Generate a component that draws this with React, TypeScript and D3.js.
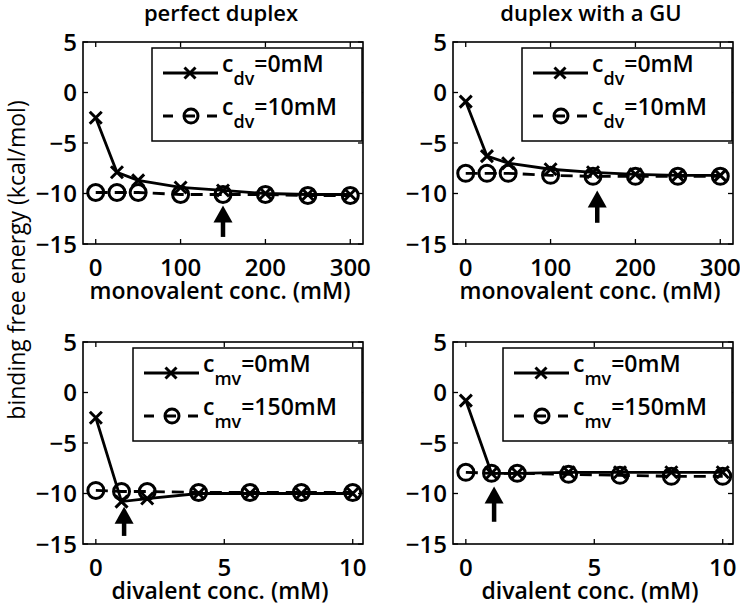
import React, { useEffect, useRef } from "react";
import * as d3 from "d3";

// concentrations on the x axes
const monoConc = [0, 25, 50, 100, 150, 200, 250, 300];
const divConc = [0, 1, 2, 4, 6, 8, 10];

// binding free energy (kcal/mol)
const perfectMonoNoDiv = [-2.5, -7.9, -8.7, -9.4, -9.7, -10.0, -10.1, -10.1];
const perfectMonoDiv10 = [-9.9, -9.9, -9.9, -10.1, -10.1, -10.1, -10.2, -10.2];
const guMonoNoDiv = [-0.9, -6.3, -7.0, -7.6, -7.9, -8.1, -8.2, -8.2];
const guMonoDiv10 = [-8.0, -8.0, -8.0, -8.2, -8.3, -8.3, -8.3, -8.3];
const perfectDivNoMono = [-2.5, -10.8, -10.5, -10.0, -10.0, -10.0, -10.0];
const perfectDivMono150 = [-9.7, -9.8, -9.8, -9.9, -9.9, -9.9, -9.9];
const guDivNoMono = [-0.8, -8.0, -8.0, -7.9, -7.9, -7.9, -7.9];
const guDivMono150 = [-7.9, -8.0, -8.0, -8.1, -8.2, -8.3, -8.3];

// tick labels
const yTicks = [5, 0, -5, -10, -15];
const monoTicks = [0, 100, 200, 300];
const divTicks = [0, 5, 10];

// arrows: [x, tip y, tail y] in data units
const arrowsMono = [[150, -11.2, -14.3], [155, -9.7, -12.9]];
const arrowsDiv = [[1.1, -11.3, -14.2], [1.1, -9.3, -12.8]];

const FONT = "'Open Sans', sans-serif";
const WEIGHT = 600;
const PW = 280;
const PH = 202;

const panels = [
  { left: 83, top: 42, title: "perfect duplex", xs: monoConc, xDomain: [-15, 315], xTicks: monoTicks,
    xLabel: "monovalent conc. (mM)", solid: perfectMonoNoDiv, dashed: perfectMonoDiv10,
    sub: "dv", legend: ["=0mM", "=10mM"], arrow: arrowsMono[0], legW: 210, labelGap: 32, xLabGap: 55 },
  { left: 453, top: 42, title: "duplex with a GU", xs: monoConc, xDomain: [-15, 315], xTicks: monoTicks,
    xLabel: "monovalent conc. (mM)", solid: guMonoNoDiv, dashed: guMonoDiv10,
    sub: "dv", legend: ["=0mM", "=10mM"], arrow: arrowsMono[1], legW: 210, labelGap: 32, xLabGap: 55 },
  { left: 83, top: 342, title: "", xs: divConc, xDomain: [-0.5, 10.4], xTicks: divTicks,
    xLabel: "divalent conc. (mM)", solid: perfectDivNoMono, dashed: perfectDivMono150,
    sub: "mv", legend: ["=0mM", "=150mM"], arrow: arrowsDiv[0], legW: 229, labelGap: 32, xLabGap: 55 },
  { left: 453, top: 342, title: "", xs: divConc, xDomain: [-0.5, 10.4], xTicks: divTicks,
    xLabel: "divalent conc. (mM)", solid: guDivNoMono, dashed: guDivMono150,
    sub: "mv", legend: ["=0mM", "=150mM"], arrow: arrowsDiv[1], legW: 229, labelGap: 32, xLabGap: 55 },
];

function drawX(g: any, cx: number, cy: number, s: number) {
  g.append("path")
    .attr("d", `M${cx - s},${cy - s}L${cx + s},${cy + s}M${cx - s},${cy + s}L${cx + s},${cy - s}`)
    .attr("stroke", "#000").attr("stroke-width", 3).attr("fill", "none");
}

function drawO(g: any, cx: number, cy: number, r: number) {
  g.append("circle").attr("cx", cx).attr("cy", cy).attr("r", r)
    .attr("stroke", "#000").attr("stroke-width", 3).attr("fill", "none");
}

function txt(g: any, size: number) {
  return g.append("text").attr("font-family", FONT).attr("font-weight", WEIGHT).attr("font-size", size);
}

function drawPanel(svg: any, p: any) {
  const x = d3.scaleLinear().domain(p.xDomain).range([p.left, p.left + PW]);
  const y = d3.scaleLinear().domain([-15, 5]).range([p.top + PH, p.top]);
  const g = svg.append("g");
  const bottom = p.top + PH;
  const right = p.left + PW;

  g.append("rect").attr("x", p.left).attr("y", p.top).attr("width", PW).attr("height", PH)
    .attr("fill", "#fff").attr("stroke", "#000").attr("stroke-width", 1.6);

  yTicks.forEach((t) => {
    g.append("line").attr("x1", p.left).attr("x2", p.left + 5).attr("y1", y(t)).attr("y2", y(t))
      .attr("stroke", "#000").attr("stroke-width", 1.3);
    g.append("line").attr("x1", right - 5).attr("x2", right).attr("y1", y(t)).attr("y2", y(t))
      .attr("stroke", "#000").attr("stroke-width", 1.3);
    txt(g, 24).attr("x", p.left - 6).attr("y", y(t)).attr("dy", "0.36em")
      .attr("text-anchor", "end")
      .text(t < 0 ? "\u2212" + Math.abs(t) : String(t));
  });

  p.xTicks.forEach((t: number) => {
    g.append("line").attr("x1", x(t)).attr("x2", x(t)).attr("y1", bottom).attr("y2", bottom - 5)
      .attr("stroke", "#000").attr("stroke-width", 1.3);
    g.append("line").attr("x1", x(t)).attr("x2", x(t)).attr("y1", p.top).attr("y2", p.top + 5)
      .attr("stroke", "#000").attr("stroke-width", 1.3);
    txt(g, 24).attr("x", x(t)).attr("y", bottom + p.labelGap)
      .attr("text-anchor", "middle")
      .text(String(t));
  });

  txt(g, 23).attr("x", p.left + PW / 2 - 3).attr("y", bottom + p.xLabGap)
    .attr("text-anchor", "middle")
    .text(p.xLabel);

  if (p.title) {
    txt(g, 22).attr("x", p.left + PW / 2 - 2).attr("y", p.top - 21)
      .attr("text-anchor", "middle")
      .text(p.title);
  }

  const line = d3.line<number>().x((d, i) => x(p.xs[i])).y((d) => y(d));

  g.append("path").attr("d", line(p.dashed)).attr("fill", "none").attr("stroke", "#000")
    .attr("stroke-width", 2.8).attr("stroke-dasharray", "12,7");
  p.dashed.forEach((v: number, i: number) => drawO(g, x(p.xs[i]), y(v), 8));

  g.append("path").attr("d", line(p.solid)).attr("fill", "none").attr("stroke", "#000")
    .attr("stroke-width", 2.8);
  p.solid.forEach((v: number, i: number) => drawX(g, x(p.xs[i]), y(v), 6));

  // arrow
  const [ax, tip, tail] = p.arrow;
  const axp = x(ax);
  const tipY = y(tip);
  g.append("line").attr("x1", axp).attr("x2", axp).attr("y1", y(tail)).attr("y2", tipY + 12)
    .attr("stroke", "#000").attr("stroke-width", 4.5);
  g.append("path").attr("d", `M${axp},${tipY}L${axp + 9.5},${tipY + 17}L${axp - 9.5},${tipY + 17}Z`)
    .attr("fill", "#000");

  // legend
  const lx = right - 1 - p.legW;
  const ly = p.top + 6;
  g.append("rect").attr("x", lx).attr("y", ly).attr("width", p.legW).attr("height", 93)
    .attr("fill", "#fff").attr("stroke", "#000").attr("stroke-width", 1.5);
  const rows = [ly + 25, ly + 68];
  rows.forEach((ry, k) => {
    g.append("line").attr("x1", lx + 11).attr("x2", lx + 66).attr("y1", ry).attr("y2", ry)
      .attr("stroke", "#000").attr("stroke-width", 2.8)
      .attr("stroke-dasharray", k === 0 ? null : "10,12");
    if (k === 0) drawX(g, lx + 38, ry, 5.5);
    else drawO(g, lx + 39, ry, 7);
    const t = txt(g, 23).attr("x", lx + 70).attr("y", ry - 1);
    t.append("tspan").text("c");
    t.append("tspan").attr("dy", 13).attr("font-size", 18).text(p.sub);
    t.append("tspan").attr("dy", -13).text(p.legend[k]);
  });
}

export default function App() {
  const ref = useRef<SVGSVGElement>(null);

  useEffect(() => {
    const svg = d3.select(ref.current);
    svg.selectAll("*").remove();
    panels.forEach((p) => drawPanel(svg, p));
    txt(svg, 23)
      .attr("font-weight", 400)
      .attr("transform", "translate(25,260) rotate(-90)")
      .attr("text-anchor", "middle")
      .text("binding free energy (kcal/mol)");
  }, []);

  return (
    <svg ref={ref} width={740} height={613}
      style={{ position: "absolute", left: 0, top: 0, background: "#fff" }} />
  );
}
